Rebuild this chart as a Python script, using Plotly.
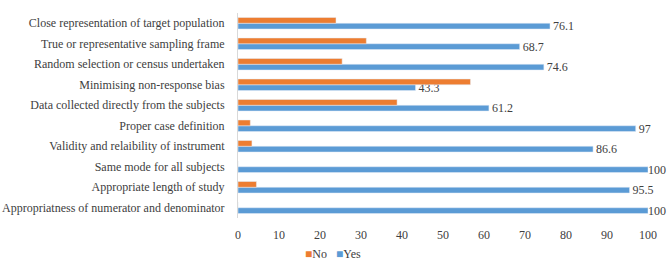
import plotly.graph_objects as go

categories = [
    "Appropriatness of numerator and denominator",
    "Appropriate length of study",
    "Same mode for all subjects",
    "Validity and relaibility of instrument",
    "Proper case definition",
    "Data collected directly from the subjects",
    "Minimising non-response bias",
    "Random selection or census undertaken",
    "True or representative sampling frame",
    "Close representation of target population",
]
yes_values = [100, 95.5, 100, 86.6, 97, 61.2, 43.3, 74.6, 68.7, 76.1]
no_values = [0, 4.5, 0, 3.4, 3, 38.8, 56.7, 25.4, 31.3, 23.9]
x_ticks = [0, 10, 20, 30, 40, 50, 60, 70, 80, 90, 100]

font_family = "Liberation Serif, Times New Roman, serif"
text_color = "#404040"
yes_color = "#5B9BD5"
no_color = "#ED7D31"

fig = go.Figure()
fig.add_trace(go.Bar(
    y=categories, x=yes_values, name="Yes", orientation="h",
    marker_color=yes_color,
    text=[(f"{v:g}" if v >= 100 else f" {v:g}") for v in yes_values],
    textposition="outside",
    constraintext="none",
    textfont=dict(family=font_family, size=12, color=text_color),
    cliponaxis=False,
))
fig.add_trace(go.Bar(
    y=categories, x=no_values, name="No", orientation="h",
    marker_color=no_color,
))

fig.update_layout(
    width=669, height=263,
    margin=dict(l=238, r=21, t=13, b=45),
    barmode="group", bargap=0.44, bargroupgap=0.0,
    paper_bgcolor="white", plot_bgcolor="white",
    font=dict(family=font_family, size=12, color=text_color),
    showlegend=False,
    annotations=[dict(
        xref="paper", yref="paper", x=0.232, y=-0.175, xanchor="center", yanchor="middle",
        showarrow=False,
        text=(f"<span style='color:{no_color};font-size:12px'>■</span>No"
              f"&nbsp;&nbsp;&nbsp;<span style='color:{yes_color};font-size:12px'>■</span>Yes"),
        font=dict(family=font_family, size=12, color=text_color),
    )],
)
fig.update_xaxes(range=[0, 100], tickvals=x_ticks, showgrid=False, zeroline=False,
                 showline=False, ticks="", ticklabelstandoff=8,
                 tickfont=dict(size=12, color=text_color))
fig.update_yaxes(showgrid=False, showline=True, linecolor="#D9D9D9", linewidth=1,
                 ticks="", ticklabelstandoff=10,
                 tickfont=dict(size=12, color=text_color), automargin=False)

fig.write_html("out.html", config={"displayModeBar": False})

with open("out.html", "r", encoding="utf-8") as f:
    html = f.read()
html = html.replace("<head>", "<head><style>html,body{margin:0;padding:0;overflow:hidden}</style>", 1)
with open("out.html", "w", encoding="utf-8") as f:
    f.write(html)
